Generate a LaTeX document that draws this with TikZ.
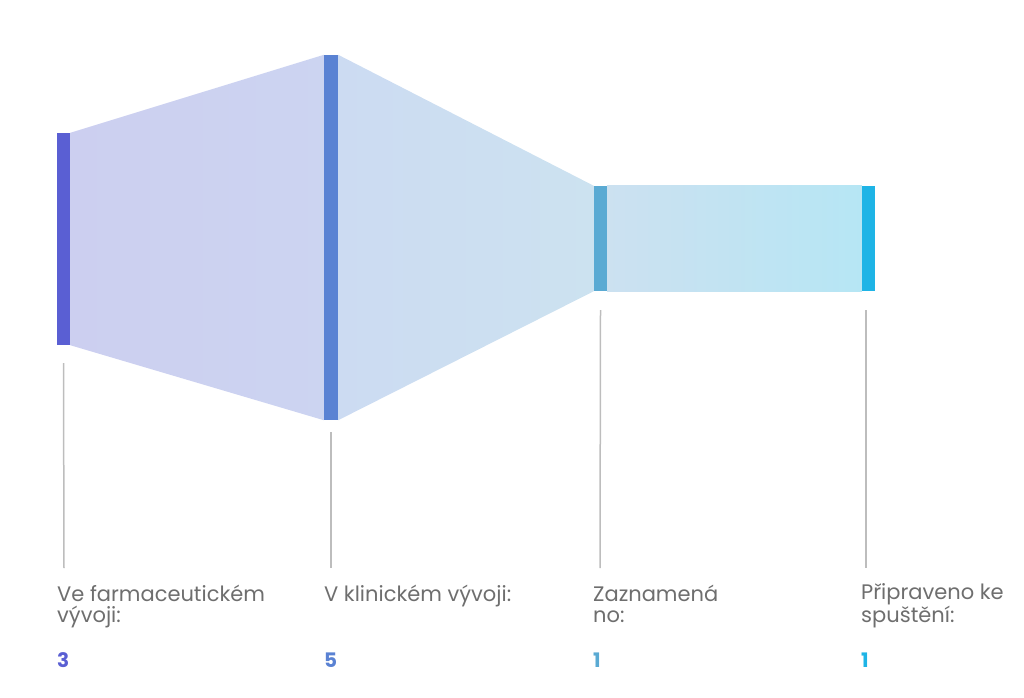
\documentclass[tikz,border=0pt]{standalone}
\usepackage{fontspec}
\setmainfont{Poppins}
\usepackage{tikz}

\definecolor{cfarm}{HTML}{5A5FD3}
\definecolor{cklin}{HTML}{5A82D3}
\definecolor{czazn}{HTML}{5AAAD3}
\definecolor{cpripr}{HTML}{1EB4E6}
\definecolor{ffarm}{HTML}{CCCFF0}
\definecolor{fklin}{HTML}{CCDBF2}
\definecolor{fzazn}{HTML}{CCE2F0}
\definecolor{fpripr}{HTML}{B6E6F4}
\definecolor{labgray}{HTML}{6E6E6E}
\definecolor{guidegray}{HTML}{BDBDBD}

\begin{document}
\begin{tikzpicture}[x=1pt,y=-1pt]
\tikzset{bar/.style = {rectangle,inner sep=0pt,minimum width=13pt}}
\tikzset{guide/.style = {draw=guidegray,line width=1.5pt}}
\tikzset{label/.style = {anchor=base west,align=left,inner sep=0pt,text=labgray,font=\fontsize{21}{21}\selectfont}}
\tikzset{count/.style = {anchor=base west,inner sep=0pt,font=\fontsize{20}{22}\selectfont\bfseries}}
\useasboundingbox (0,0) rectangle (1024,697);
\node[bar,fill=cfarm,minimum height=212pt] (farm) at (63.5,239) {};
\node[bar,fill=cklin,minimum height=365pt,minimum width=14pt] (klin) at (331,237.5) {};
\node[bar,fill=czazn,minimum height=105pt] (zazn) at (600.5,238.5) {};
\node[bar,fill=cpripr,minimum height=105pt] (pripr) at (868.5,238.5) {};
\shade[left color=ffarm,right color=ffarm!60!fklin] (farm.north east) -- (klin.north west) -- (klin.south west) -- (farm.south east) -- cycle;
\shade[left color=fklin,right color=fzazn] (klin.north east) -- (zazn.north west) -- (zazn.south west) -- (klin.south east) -- cycle;
\shade[left color=fzazn!80!fklin,right color=fpripr] (zazn.north east) -- (pripr.north west) -- (pripr.south west) -- (zazn.south east) -- cycle;
% two-line labels sit on the baseline of their last line
\node[label] (lfarm) at (57,622) {Ve farmaceutickém\\vývoji:};
\node[label] (lklin) at (324,601) {V klinickém vývoji:};
\node[label] (lzazn) at (593,622) {Zaznamená\\no:};
\node[label] (lpripr) at (861,622) {Připraveno ke\\spuštění:};
\node[count,text=cfarm] (nfarm) at (57,667) {3};
\node[count,text=cklin] (nklin) at (324,667) {5};
\node[count,text=czazn] (nzazn) at (593,667) {1};
\node[count,text=cpripr] (npripr) at (861,667) {1};
\coordinate (efarm) at (64,568);
\coordinate (eklin) at (331,568);
\coordinate (ezazn) at (600,568);
\coordinate (epripr) at (866,568);
\draw[guide] ([yshift=-18pt]farm.south) -- (efarm);
\draw[guide] ([yshift=-12pt]klin.south) -- (eklin);
\draw[guide] ([yshift=-19pt]zazn.south) -- (ezazn);
\draw[guide] ([yshift=-19pt]pripr.south -| epripr) -- (epripr);
\end{tikzpicture}
\end{document}
